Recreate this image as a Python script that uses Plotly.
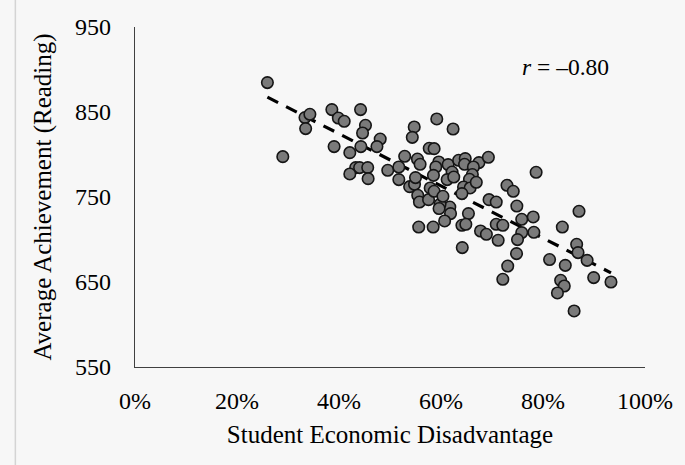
import numpy as np
import plotly.graph_objects as go

# Student economic disadvantage (%) and average reading achievement
disadvantage = [
    25.96, 33.33, 34.29, 33.46, 28.98, 38.60, 39.87, 41.02, 44.23, 45.19,
    44.62, 48.08, 47.44, 44.29, 39.04, 42.12, 43.27, 44.04, 45.63, 42.12,
    45.71, 49.56, 51.73, 52.88, 54.75, 54.37, 57.69, 55.38, 55.90, 51.73,
    53.85, 54.81, 55.00, 57.88, 55.44, 55.77, 57.56, 59.17, 62.37, 58.65,
    59.56, 58.98, 61.40, 63.46, 64.75, 64.62, 67.44, 69.29, 66.35, 62.17,
    58.52, 61.21, 62.50, 66.15, 65.58, 58.65, 64.42, 65.71, 64.10, 61.73,
    59.81, 59.62, 61.87, 65.38, 69.42, 70.83, 72.94, 74.17, 78.65, 74.87,
    78.08, 75.83, 87.06, 55.63, 58.46, 60.71, 64.10, 64.87, 64.17, 67.75,
    68.90, 70.83, 72.12, 75.83, 78.21, 71.21, 75.00, 74.81, 73.08, 72.12,
    83.79, 86.60, 86.87, 88.65, 81.29, 84.37, 89.94, 93.33, 83.46, 84.17,
    82.83, 86.10, 66.92, 60.38,
]
achievement = [
    884.6, 843.4, 847.3, 830.5, 797.5, 852.8, 842.9, 839.1, 852.8, 834.4,
    825.3, 818.2, 809.3, 809.3, 809.3, 802.2, 784.6, 784.6, 784.6, 777.1,
    771.6, 781.4, 785.3, 797.9, 832.4, 820.2, 807.3, 794.7, 788.5, 770.5,
    762.2, 764.9, 772.8, 760.6, 752.0, 744.1, 746.9, 841.8, 830.0, 806.9,
    791.2, 785.3, 788.1, 793.2, 795.2, 788.5, 790.5, 796.7, 785.3, 779.4,
    775.5, 770.5, 773.5, 776.4, 770.8, 756.7, 761.8, 760.6, 754.0, 738.2,
    741.4, 736.4, 730.5, 730.5, 746.9, 744.1, 763.8, 756.7, 779.1, 739.4,
    726.5, 723.8, 733.2, 714.7, 714.7, 721.8, 716.7, 717.9, 690.5, 710.0,
    706.1, 717.9, 716.7, 708.1, 708.5, 699.1, 699.9, 683.4, 668.8, 653.2,
    714.7, 694.4, 684.6, 675.5, 676.4, 669.6, 655.2, 650.0, 652.0, 645.3,
    637.1, 615.9, 767.3, 750.8,
]
x_ticks = [0, 20, 40, 60, 80, 100]
x_tick_labels = ["0%", "20%", "40%", "60%", "80%", "100%"]
y_ticks = [550, 650, 750, 850, 950]
r_label = "<i>r</i> = –0.80"

xs = np.array(disadvantage)
ys = np.array(achievement)
slope, intercept = np.polyfit(xs, ys, 1)
fit_x = np.array([xs.min(), xs.max()])
fit_y = slope * fit_x + intercept

FONT = "Liberation Serif"
BG = "#f7f7f7"

fig = go.Figure()
fig.add_trace(go.Scatter(
    x=fit_x, y=fit_y, mode="lines",
    line=dict(color="black", width=3.2, dash="12px,9px"),
    hoverinfo="skip", showlegend=False,
))
fig.add_trace(go.Scatter(
    x=disadvantage, y=achievement, mode="markers",
    marker=dict(size=11.5, color="#7a7a7a", line=dict(color="#151515", width=1.6)),
    showlegend=False,
))

fig.add_annotation(
    x=84.4, y=903, xref="x", yref="y", text=r_label, showarrow=False,
    font=dict(family=FONT, size=23.5, color="black"),
)

fig.add_shape(type="line", xref="paper", yref="paper",
              x0=-0.2346, x1=-0.2346, y0=-1, y1=2,
              line=dict(color="#d4d4d4", width=1.5))

fig.update_layout(
    width=685, height=465,
    margin=dict(l=135, r=30, t=27, b=98),
    paper_bgcolor=BG, plot_bgcolor=BG,
    font=dict(family=FONT, size=24, color="black"),
    xaxis=dict(
        range=[0, 100], tickvals=x_ticks, ticktext=x_tick_labels,
        showgrid=False, zeroline=False, showline=True,
        linecolor="#404040", linewidth=1.3, ticks="",
        ticklabelstandoff=12,
        title=dict(text="Student Economic Disadvantage", standoff=12,
                   font=dict(family=FONT, size=25)),
        tickfont=dict(family=FONT, size=24),
    ),
    yaxis=dict(
        range=[550, 950], tickvals=y_ticks,
        showgrid=False, zeroline=False, showline=True,
        linecolor="#404040", linewidth=1.3, ticks="",
        ticklabelstandoff=18,
        title=dict(text="Average Achievement (Reading)", standoff=16,
                   font=dict(family=FONT, size=25)),
        tickfont=dict(family=FONT, size=24),
    ),
)

fig.write_html(
    "out.html",
    config={"displayModeBar": False},
    post_script="document.body.style.margin='0';document.body.style.background='#f7f7f7';",
)
